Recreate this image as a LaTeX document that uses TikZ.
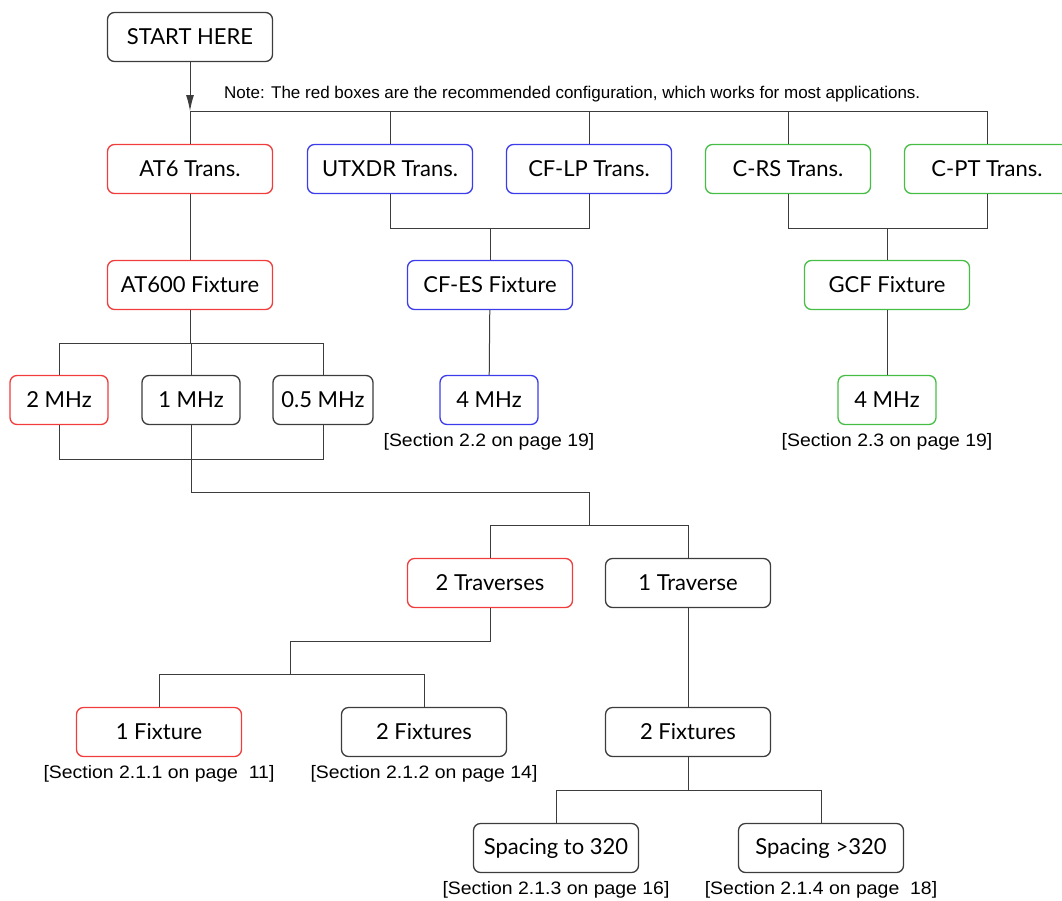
\documentclass[tikz,border=0pt]{standalone}
\usepackage{fontspec}
\setmainfont{Lato}
\newfontfamily\notefont{Liberation Sans}
\newfontfamily\reffont[FakeStretch=1.08]{Liberation Sans}
\usepackage{tikz}
\usetikzlibrary{positioning}
\usetikzlibrary{arrows.meta}
\definecolor{recred}{RGB}{240,60,60}
\definecolor{altblue}{RGB}{60,60,235}
\definecolor{altgreen}{RGB}{70,190,70}
\definecolor{linegray}{RGB}{60,60,60}
\tikzset{
  mybox/.style={
    draw=linegray,
    shape=rectangle,
    rounded corners=7pt,
    line width=1.3pt,
    align=center,
    minimum width=165pt,
    minimum height=49pt,
    inner sep=0pt,
    font=\fontsize{22}{26}\selectfont
  },
  smallbox/.style={
    mybox,
    minimum width=98pt,
  },
  redbox/.style={draw=recred},
  bluebox/.style={draw=altblue},
  greenbox/.style={draw=altgreen},
  myline/.style={
    draw=linegray,
    line width=1pt,
  },
  mynote/.style={
    inner sep=0pt,
    font=\notefont\fontsize{17}{20}\selectfont
  },
  myref/.style={
    inner sep=0pt,
    font=\reffont\fontsize{18}{21}\selectfont
  },
}

\begin{document}
\begin{tikzpicture}[x=1pt, y=-1pt]
    \useasboundingbox (0, 0) rectangle (1062, 900);

    \node [mybox] (start) at (190, 37) {START HERE};

    \coordinate (bus) at (0, 111);
    \node [mynote, anchor=west] (note) at (224, 94) {Note: The red boxes are the recommended configuration, which works for most applications.};

    \node [mybox, redbox] (at6) at (190, 169) {AT6 Trans.};
    \node [mybox, bluebox] (utx) at (390, 169) {UTXDR Trans.};
    \node [mybox, bluebox] (cflp) at (589, 169) {CF-LP Trans.};
    \node [mybox, greenbox] (crs) at (788, 169) {C-RS Trans.};
    \node [mybox, greenbox] (cpt) at (987, 169) {C-PT Trans.};

    \draw [myline, -{Latex[length=16pt, width=8pt]}] (start.south) -- (start.south |- bus);
    \draw [myline] (at6.north |- bus) -- (cpt.north |- bus);
    \foreach \n in {at6, utx, cflp, crs, cpt}
      \draw [myline] (\n.north) -- (\n.north |- bus);

    \coordinate (transjoin) at (0, 228);
    \node [mybox, redbox] (at600) at (190, 285) {AT600 Fixture};
    \node [mybox, bluebox] (cfes) at (490, 285) {CF-ES Fixture};
    \node [mybox, greenbox] (gcf) at (887, 285) {GCF Fixture};

    \draw [myline] (at6) -- (at600);
    \draw [myline] (utx.south) -- (utx.south |- transjoin) -- (cflp.south |- transjoin) -- (cflp.south);
    \draw [myline] (cfes.north) -- (cfes.north |- transjoin);
    \draw [myline] (crs.south) -- (crs.south |- transjoin) -- (cpt.south |- transjoin) -- (cpt.south);
    \draw [myline] (gcf.north) -- (gcf.north |- transjoin);

    \coordinate (freqbus) at (0, 343);
    \coordinate (lowbus) at (0, 459);
    \node [smallbox, redbox] (mhz2) at (59, 400) {2 MHz};
    \node [smallbox] (mhz1) at (191, 400) {1 MHz};
    \node [smallbox, minimum width=100pt] (mhz05) at (323, 400) {0.5 MHz};
    \node [smallbox, bluebox] (cfesmhz) at (489, 400) {4 MHz};
    \node [smallbox, greenbox] (gcfmhz) at (887, 400) {4 MHz};
    \node [myref, below=8pt of cfesmhz] (cfesref) {[Section 2.2 on page 19]};
    \node [myref, below=8pt of gcfmhz] (gcfref) {[Section 2.3 on page 19]};

    \draw [myline] (at600.south) -- (at600.south |- freqbus);
    \draw [myline] (mhz2.north) -- (mhz2.north |- freqbus) -- (mhz05.north |- freqbus) -- (mhz05.north);
    \draw [myline] (mhz1.north) -- (mhz1.north |- freqbus);
    \draw [myline] (mhz2.south) -- (mhz2.south |- lowbus) -- (mhz05.south |- lowbus) -- (mhz05.south);
    \draw [myline] (cfes) -- (cfesmhz);
    \draw [myline] (gcf) -- (gcfmhz);

    \coordinate (freqjoin) at (589, 492);
    \coordinate (travbus) at (0, 525);
    \node [mybox, redbox] (trav2) at (490, 583) {2 Traverses};
    \node [mybox] (trav1) at (688, 583) {1 Traverse};

    \draw [myline] (mhz1.south) |- (freqjoin) -- (freqjoin |- travbus);
    \draw [myline] (trav2.north) -- (trav2.north |- travbus) -- (trav1.north |- travbus) -- (trav1.north);

    \coordinate (fixjoin) at (290, 641);
    \coordinate (fixbus) at (0, 674);
    \node [mybox, redbox] (fix1) at (159, 732) {1 Fixture};
    \node [mybox] (fix2a) at (424, 732) {2 Fixtures};
    \node [mybox] (fix2b) at (688, 732) {2 Fixtures};
    \node [myref, below=8pt of fix1] (fix1ref) {[Section 2.1.1 on page\ \ 11]};
    \node [myref, below=8pt of fix2a] (fix2aref) {[Section 2.1.2 on page 14]};

    \draw [myline] (trav2.south) |- (fixjoin) -- (fixjoin |- fixbus);
    \draw [myline] (fix1.north) -- (fix1.north |- fixbus) -- (fix2a.north |- fixbus) -- (fix2a.north);
    \draw [myline] (trav1) -- (fix2b);

    \coordinate (spacebus) at (0, 790);
    \node [mybox] (space1) at (556, 848) {Spacing to 320};
    \node [mybox] (space2) at (821, 848) {Spacing >320};
    \node [myref, below=8pt of space1] (space1ref) {[Section 2.1.3 on page 16]};
    \node [myref, below=8pt of space2] (space2ref) {[Section 2.1.4 on page\ \ 18]};

    \draw [myline] (fix2b.south) -- (fix2b.south |- spacebus);
    \draw [myline] (space1.north) -- (space1.north |- spacebus) -- (space2.north |- spacebus) -- (space2.north);

  \end{tikzpicture}
\end{document}
